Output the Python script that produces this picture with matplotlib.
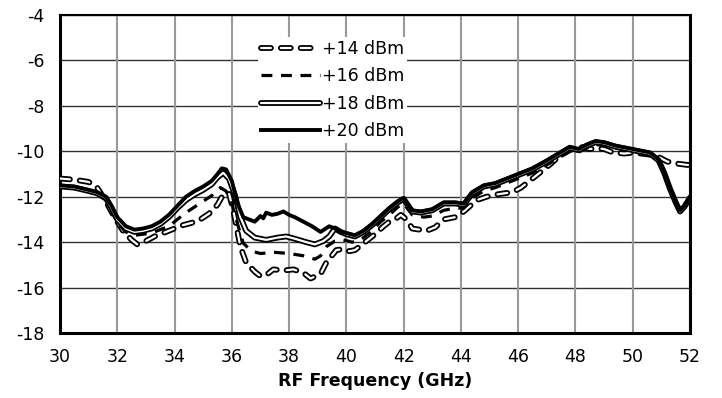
import numpy as np
import matplotlib.pyplot as plt
import matplotlib.patheffects as pe

plt.rcParams['axes.unicode_minus'] = False

# +20 dBm
f20 = [30, 30.5, 31, 31.3, 31.6, 31.8, 32, 32.3, 32.6, 32.9, 33.2, 33.5, 33.8, 34.1, 34.4,
       34.7, 35.0, 35.3, 35.5, 35.65, 35.8, 36.0, 36.2, 36.4, 36.6, 36.8, 37.0, 37.1, 37.2,
       37.4, 37.6, 37.8, 38.0, 38.2, 38.5, 38.8, 39.1, 39.4, 39.6, 39.8, 40.0, 40.3, 40.6,
       40.9, 41.2, 41.5, 41.8, 42.0, 42.3, 42.6, 43.0, 43.4, 43.8, 44.1, 44.4, 44.8, 45.2,
       45.6, 46.0, 46.5, 47.0, 47.4, 47.8, 48.1, 48.4, 48.7, 49.0, 49.4, 49.8, 50.2, 50.6,
       50.9, 51.1, 51.3, 51.5, 51.65, 51.8, 52.0]
v20 = [-11.5, -11.55, -11.7, -11.8, -12.0, -12.4, -12.9, -13.3, -13.45, -13.4, -13.3, -13.1,
       -12.8, -12.4, -12.0, -11.75, -11.55, -11.3, -11.0, -10.75, -10.8, -11.3, -12.3, -12.9,
       -13.0, -13.1, -12.85, -12.95, -12.7, -12.8, -12.75, -12.65, -12.8, -12.9, -13.1, -13.3,
       -13.55, -13.3, -13.4, -13.55, -13.6, -13.7, -13.5, -13.2, -12.85, -12.5, -12.2, -12.05,
       -12.6, -12.65, -12.55, -12.25, -12.25, -12.3, -11.8, -11.5, -11.4, -11.2, -11.0, -10.75,
       -10.4, -10.1, -9.8, -9.9, -9.7, -9.55, -9.6, -9.75, -9.85, -9.95, -10.05, -10.35, -10.9,
       -11.6, -12.2, -12.6, -12.4, -12.0]

# +18 dBm
f18 = [30, 30.5, 31, 31.3, 31.6, 31.8, 32, 32.3, 32.6, 32.9, 33.2, 33.5, 33.8, 34.1, 34.4,
       34.7, 35.0, 35.3, 35.5, 35.7, 35.9, 36.1, 36.3, 36.5, 36.8, 37.2, 37.6, 37.9, 38.2,
       38.6, 38.9, 39.2, 39.4, 39.6, 39.8, 40.0, 40.3, 40.6, 40.9, 41.2, 41.5, 41.8, 42.0,
       42.3, 42.6, 43.0, 43.4, 43.8, 44.1, 44.4, 44.8, 45.2, 45.6, 46.0, 46.5, 47.0, 47.4,
       47.8, 48.1, 48.4, 48.7, 49.0, 49.4, 49.8, 50.2, 50.6, 50.9, 51.1, 51.3, 51.5, 51.65,
       51.8, 52.0]
v18 = [-11.55, -11.6, -11.75, -11.85, -12.05, -12.5, -13.0, -13.4, -13.55, -13.5, -13.4,
       -13.2, -12.9, -12.5, -12.15, -11.9, -11.7, -11.45, -11.15, -10.95, -11.2, -11.9, -12.9,
       -13.5, -13.8, -13.9, -13.8, -13.75, -13.85, -14.0, -14.1, -13.95, -13.75, -13.4, -13.55,
       -13.65, -13.75, -13.55, -13.25, -12.9, -12.55, -12.25, -12.1, -12.65, -12.7, -12.6,
       -12.3, -12.3, -12.35, -11.85, -11.55, -11.45, -11.25, -11.05, -10.8, -10.45, -10.15,
       -9.85, -9.95, -9.75, -9.6, -9.65, -9.8, -9.9, -10.0, -10.1, -10.4, -10.95, -11.65, -12.25,
       -12.65, -12.45, -12.05]

# +16 dBm
f16 = [30, 30.5, 31, 31.3, 31.6, 31.8, 32, 32.3, 32.6, 32.9, 33.2, 33.5, 33.8, 34.1, 34.4,
       34.7, 35.0, 35.3, 35.6, 35.8, 36.0, 36.2, 36.4, 36.7, 37.0, 37.5, 38.0, 38.5, 38.9,
       39.1, 39.3, 39.6, 39.9, 40.2, 40.5, 40.9, 41.2, 41.5, 41.8, 42.0, 42.3, 42.7, 43.0,
       43.4, 43.8, 44.1, 44.4, 44.8, 45.2, 45.6, 46.0, 46.5, 47.0, 47.4, 47.8, 48.1, 48.4,
       48.7, 49.0, 49.4, 49.8, 50.2, 50.6, 50.9, 51.1, 51.3, 51.5, 51.65, 51.8, 52.0]
v16 = [-11.5, -11.6, -11.75, -11.9, -12.15, -12.6, -13.15, -13.55, -13.7, -13.65, -13.6,
       -13.45, -13.3, -13.0, -12.7, -12.45, -12.2, -11.95, -11.6, -11.75, -12.3, -13.2, -14.05,
       -14.4, -14.5, -14.45, -14.5, -14.6, -14.75, -14.6, -14.2, -13.95, -13.9, -14.0, -13.9,
       -13.5, -13.1, -12.8, -12.45, -12.3, -12.8, -12.9, -12.85, -12.6, -12.5, -12.5, -12.05,
       -11.75, -11.6, -11.4, -11.2, -10.95, -10.6, -10.3, -10.0, -10.05, -9.85, -9.7, -9.75,
       -9.85, -9.95, -10.05, -10.15, -10.45, -10.95, -11.65, -12.25, -12.65, -12.45, -12.05]

# +14 dBm
f14 = [30, 30.5, 31, 31.3, 31.6, 31.9, 32.2, 32.5, 32.7, 33.0, 33.3, 33.7, 34.0, 34.3, 34.6,
       34.9, 35.2, 35.5, 35.7, 35.9, 36.05, 36.3, 36.5, 36.8, 37.0, 37.2, 37.45, 37.8, 38.15,
       38.5, 38.75, 39.1, 39.3, 39.65, 39.9, 40.1, 40.3, 40.6, 41.0, 41.3, 41.5, 41.75, 41.9,
       42.1, 42.3, 42.8, 43.1, 43.4, 43.8, 44.1, 44.55, 44.9, 45.25, 45.8, 46.1, 46.4, 46.7,
       47.0, 47.45, 47.8, 48.15, 48.5, 48.75, 49.0, 49.3, 49.7, 50.0, 50.3, 50.6, 50.9, 51.2,
       51.6, 51.9, 52.0]
v14 = [-11.2, -11.25, -11.35, -11.6, -12.2, -12.9, -13.5, -13.9, -14.1, -13.95, -13.75,
       -13.55, -13.4, -13.25, -13.15, -13.0, -12.75, -12.35, -11.9, -11.85, -12.6, -14.2, -14.9,
       -15.3, -15.5, -15.45, -15.2, -15.25, -15.2, -15.35, -15.6, -15.4, -14.9, -14.35, -14.3,
       -14.4, -14.35, -14.05, -13.65, -13.3, -13.1, -12.95, -12.8, -13.0, -13.4, -13.5, -13.35,
       -13.0, -12.9, -12.65, -12.15, -12.0, -11.9, -11.8, -11.6, -11.3, -11.0, -10.7, -10.2,
       -9.95, -9.8, -9.9, -9.87, -9.9, -10.05, -10.1, -10.06, -10.1, -10.15, -10.25, -10.45,
       -10.55, -10.6, -10.6]

x_ticks = np.arange(30, 53, 2)
y_ticks = np.arange(-18, -3, 2)

fig = plt.figure(figsize=(7.22, 3.98), dpi=100)
ax = fig.add_axes([60 / 722, 65 / 398, 630 / 722, 318 / 398])

# grid: dark horizontal, gray vertical
for yv in y_ticks:
    ax.axhline(yv, color='#333333', lw=1.0, zorder=0)
for xv in x_ticks:
    ax.axvline(xv, color='#999999', lw=1.5, zorder=0)

double = [pe.Stroke(linewidth=4.2, foreground='black'), pe.Stroke(linewidth=1.6, foreground='white')]

ax.plot(f14, v14, color='black', lw=4.2, dashes=(1.7, 1.7),
        dash_capstyle='round', path_effects=double, label='+14 dBm', zorder=3)
ax.plot(f16, v16, color='black', lw=2.3, dashes=(3.4, 2.7),
        label='+16 dBm', zorder=4)
ax.plot(f18, v18, color='black', lw=4.2, solid_capstyle='round',
        path_effects=double, label='+18 dBm', zorder=5)
ax.plot(f20, v20, color='black', lw=2.8, solid_joinstyle='round',
        label='+20 dBm', zorder=6)

ax.set_xlim(30, 52)
ax.set_ylim(-18, -4)
ax.set_xticks(x_ticks)
ax.set_yticks(y_ticks)
ax.tick_params(length=0, labelsize=12.5)
ax.tick_params(axis='x', pad=11)
ax.tick_params(axis='y', pad=11)
ax.set_xlabel('RF Frequency (GHz)', fontsize=12.5, fontweight='bold', labelpad=4)

for side in ['left', 'right', 'bottom']:
    ax.spines[side].set_linewidth(2.2)
ax.spines['top'].set_linewidth(1.5)

leg = ax.legend(loc='upper left', bbox_to_anchor=((258 - 60) / 630, (333 - 37) / 318),
                fontsize=12.5, frameon=True, facecolor='white', edgecolor='none',
                framealpha=1, borderpad=0.15, borderaxespad=0, handlelength=3.4,
                handletextpad=0.15, labelspacing=0.55)
leg.set_zorder(7)

fig.savefig('out.png', dpi=100)
